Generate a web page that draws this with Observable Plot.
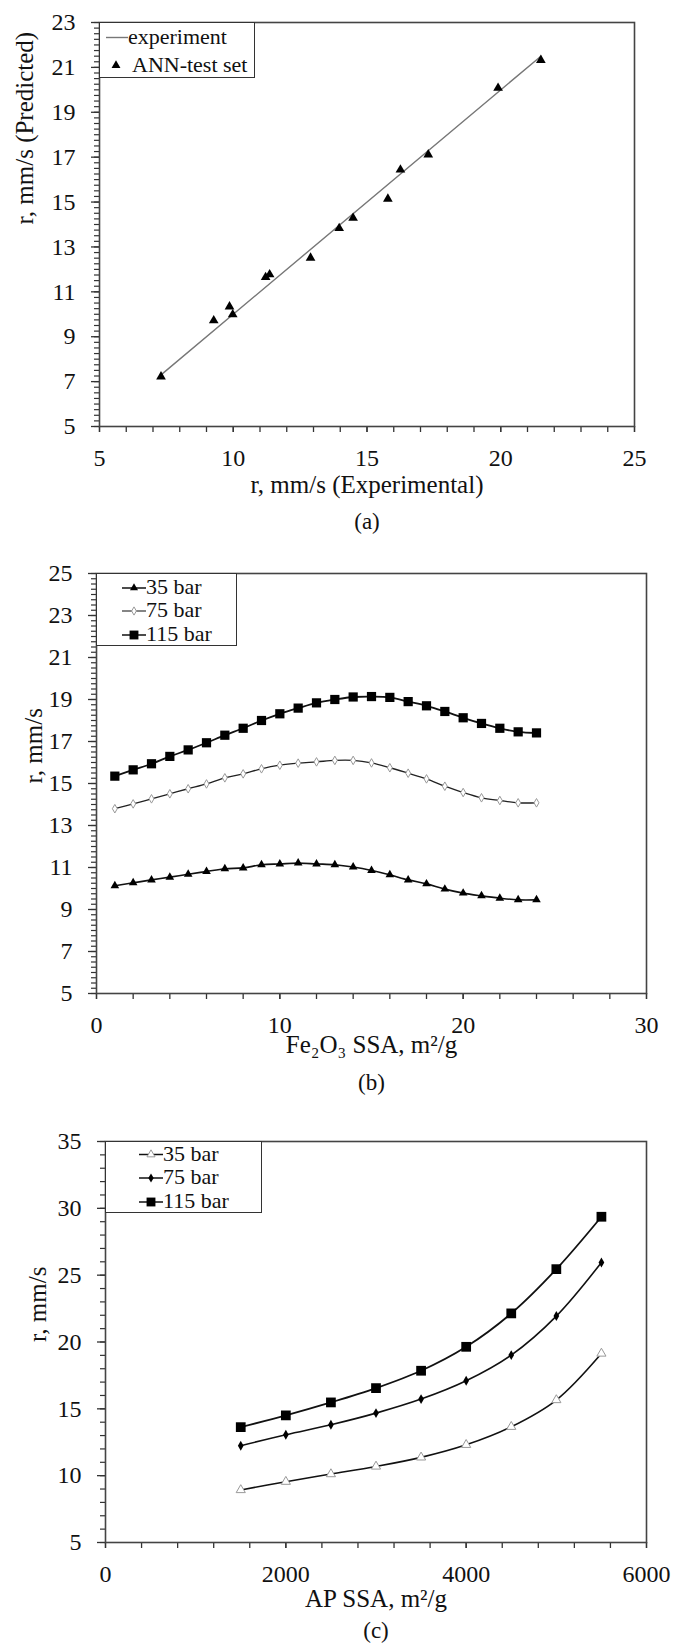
<!DOCTYPE html>
<html><head><meta charset="utf-8">
<script src="https://cdn.jsdelivr.net/npm/d3@7"></script>
<script src="https://cdn.jsdelivr.net/npm/@observablehq/plot@0.6"></script>
<style>
body{margin:0;background:#fff;}
#page{position:relative;width:675px;height:1649px;background:#fff;font-family:"Liberation Serif","Times New Roman",serif;overflow:hidden;}
.fig{position:absolute;left:0;width:675px;}
.legend{position:absolute;border:1.5px solid #333;background:#fff;box-sizing:border-box;}
.legend .t{position:absolute;font-size:22px;line-height:22px;white-space:nowrap;color:#111;}
.legend svg{position:absolute;left:0;top:0;}
</style></head>
<body><div id="page"></div>
<script>
// ---------- data ----------
// (a) ANN test set
const aExperimental = [7.3, 9.27, 9.86, 9.98, 11.21, 11.36, 12.89, 13.96, 14.48, 15.78, 16.25, 17.29, 19.9, 21.5];
const aPredicted    = [7.22, 9.72, 10.34, 9.99, 11.65, 11.77, 12.51, 13.83, 14.29, 15.14, 16.44, 17.11, 20.08, 21.32];
const aExperimentLine = [7.3, 21.5];
// (b) Fe2O3 SSA
const bSSA = [1,2,3,4,5,6,7,8,9,10,11,12,13,14,15,16,17,18,19,20,21,22,23,24];
const b35  = [10.13,10.27,10.41,10.54,10.68,10.81,10.94,10.98,11.13,11.17,11.21,11.17,11.13,11.02,10.86,10.65,10.41,10.22,9.97,9.78,9.65,9.54,9.46,9.46];
const b75  = [13.8,14.03,14.27,14.51,14.75,14.98,15.27,15.46,15.7,15.87,15.97,16.03,16.1,16.1,15.98,15.75,15.49,15.22,14.87,14.57,14.32,14.19,14.08,14.08];
const b115 = [15.35,15.65,15.94,16.29,16.6,16.94,17.3,17.63,18.0,18.32,18.59,18.84,19.0,19.12,19.14,19.1,18.9,18.7,18.43,18.13,17.86,17.63,17.46,17.41];
// (c) AP SSA
const cSSA = [1500,2000,2500,3000,3500,4000,4500,5000,5500];
const c35  = [8.93,9.55,10.12,10.69,11.37,12.31,13.66,15.66,19.14];
const c75  = [12.24,13.06,13.81,14.68,15.73,17.1,19.02,21.94,25.95];
const c115 = [13.63,14.51,15.48,16.55,17.85,19.64,22.14,25.45,29.37];
// tick labels
const aXTicks = [5,10,15,20,25];
const aYTicks = [5,7,9,11,13,15,17,19,21,23];
const bXTicks = [0,10,20,30];
const bYTicks = [5,7,9,11,13,15,17,19,21,23,25];
const cXTicks = [0,2000,4000,6000];
const cYTicks = [5,10,15,20,25,30,35];

const FONT = '"Liberation Serif", "Times New Roman", serif';
const page = document.getElementById("page");

function zip(xs, ys){ return xs.map((x,i)=>({x, y: ys[i]})); }

function panel(o){
  const marks = [
    Plot.axisX(o.xMinor, {tickSize:6, tickFormat:()=>"", stroke:"#333", strokeWidth:1.3, label:null}),
    Plot.axisX(o.xMajor, {tickSize:6, tickPadding:16, fontSize:24, stroke:"#333", strokeWidth:1.3, tickFormat:d=>String(d), label:null}),
    Plot.axisY(o.yMinor, {tickSize:5, tickFormat:()=>"", stroke:"#333", strokeWidth:1.2, label:null}),
    Plot.axisY(o.yMajor, {tickSize:8, tickPadding:16, fontSize:24, stroke:"#333", strokeWidth:1.3, tickFormat:d=>String(d), label:null}),
    ...o.marks,
    Plot.frame({stroke:"#444", strokeWidth:1.6}),
    Plot.text([o.xLabel], {frameAnchor:"bottom", dy:o.xLabelDy, fontSize:25, fill:"#111"}),
    Plot.text([o.yLabel], {frameAnchor:"left", dx:o.yLabelDx, rotate:-90, fontSize:25, fill:"#111"}),
    Plot.text([o.caption], {frameAnchor:"bottom", dy:o.captionDy, fontSize:23, fill:"#111"})
  ];
  const svg = Plot.plot({
    width:675, height:o.height,
    marginLeft:o.ml, marginRight:o.mr, marginTop:o.mt, marginBottom:o.mb,
    x:{domain:o.xDomain}, y:{domain:o.yDomain},
    style:{fontFamily:FONT, fontSize:"24px", color:"#111", background:"white", overflow:"visible"},
    marks
  });
  const div = document.createElement("div");
  div.className = "fig";
  div.style.top = o.top + "px";
  div.appendChild(svg);
  page.appendChild(div);
}

function legend(o){
  const box = document.createElement("div");
  box.className = "legend";
  Object.assign(box.style, {left:o.left+"px", top:o.top+"px", width:o.width+"px", height:o.height+"px"});
  const svg = d3.create("svg").attr("width", o.width).attr("height", o.height);
  o.items.forEach(it => {
    if (it.line) svg.append("line").attr("x1", it.line[0]).attr("x2", it.line[1]).attr("y1", it.cy).attr("y2", it.cy)
      .attr("stroke", it.lineStroke || "#111").attr("stroke-width", it.lineWidth || 1.5);
    if (it.symbol) svg.append("path").attr("transform", `translate(${it.mx},${it.cy})`)
      .attr("d", d3.symbol(it.symbol, Math.PI*it.r*it.r)())
      .attr("fill", it.fill).attr("stroke", it.stroke || "none").attr("stroke-width", 1);
    const t = document.createElement("div");
    t.className = "t"; t.textContent = it.label;
    t.style.left = it.tx + "px"; t.style.top = (it.cy - 12) + "px";
    box.appendChild(t);
  });
  box.prepend(svg.node());
  page.appendChild(box);
}

// ---------- (a) ----------
panel({
  top:0, height:545, ml:99, mr:41, mt:22, mb:119,
  xDomain:[5,25], yDomain:[5,23],
  xMajor:aXTicks, xMinor:d3.range(5,25.001,1),
  yMajor:aYTicks, yMinor:d3.range(5,23.001,0.25),
  xLabel:"r, mm/s (Experimental)", xLabelDy:66,
  yLabel:"r, mm/s (Predicted)", yLabelDx:-75,
  caption:"(a)", captionDy:102,
  marks:[
    Plot.line(zip(aExperimentLine, aExperimentLine), {x:"x", y:"y", stroke:"#777", strokeWidth:1.4}),
    Plot.dot(zip(aExperimental, aPredicted), {x:"x", y:"y", symbol:"triangle", r:3.6, fill:"#000", stroke:"none"})
  ]
});
legend({left:99, top:22, width:156, height:56, items:[
  {label:"experiment", cy:14.5, line:[6,28], lineStroke:"#777", lineWidth:1.4, tx:28},
  {label:"ANN-test set", cy:42.5, symbol:d3.symbolTriangle, mx:16, r:3.3, fill:"#000", tx:32}
]});

// ---------- (b) ----------
panel({
  top:545, height:555, ml:96, mr:29, mt:28, mb:107,
  xDomain:[0,30], yDomain:[5,25],
  xMajor:bXTicks, xMinor:d3.range(0,30.001,2),
  yMajor:bYTicks, yMinor:d3.range(5,25.001,0.25),
  xLabel:"Fe\u2082O\u2083 SSA, m\u00B2/g", xLabelDy:59,
  yLabel:"r, mm/s", yLabelDx:-63,
  caption:"(b)", captionDy:96,
  marks:[
    Plot.line(zip(bSSA, b35), {x:"x", y:"y", curve:"catmull-rom", stroke:"#111", strokeWidth:1.6}),
    Plot.line(zip(bSSA, b75), {x:"x", y:"y", curve:"catmull-rom", stroke:"#222", strokeWidth:1.3}),
    Plot.line(zip(bSSA, b115), {x:"x", y:"y", curve:"catmull-rom", stroke:"#111", strokeWidth:1.8}),
    Plot.dot(zip(bSSA, b35), {x:"x", y:"y", symbol:"triangle", r:3.2, fill:"#000", stroke:"none"}),
    Plot.dot(zip(bSSA, b75), {x:"x", y:"y", symbol:"diamond", r:2.6, fill:"#fff", stroke:"#999", strokeWidth:1}),
    Plot.dot(zip(bSSA, b115), {x:"x", y:"y", symbol:"square", r:5.2, fill:"#000", stroke:"none"})
  ]
});
legend({left:96, top:573, width:141, height:73, items:[
  {label:"35 bar", cy:14, line:[25,49], tx:49, symbol:d3.symbolTriangle, mx:37, r:3, fill:"#000"},
  {label:"75 bar", cy:37, line:[25,49], lineStroke:"#333", lineWidth:1.2, tx:49, symbol:d3.symbolDiamond, mx:37, r:2.5, fill:"#fff", stroke:"#999"},
  {label:"115 bar", cy:61, line:[25,49], tx:49, symbol:d3.symbolSquare, mx:37, r:5, fill:"#000"}
]});

// ---------- (c) ----------
panel({
  top:1100, height:549, ml:105, mr:29, mt:41, mb:107,
  xDomain:[0,6000], yDomain:[5,35],
  xMajor:cXTicks, xMinor:d3.range(0,6000.001,400),
  yMajor:cYTicks, yMinor:d3.range(5,35.001,1),
  xLabel:"AP SSA, m\u00B2/g", xLabelDy:64,
  yLabel:"r, mm/s", yLabelDx:-68,
  caption:"(c)", captionDy:95,
  marks:[
    Plot.line(zip(cSSA, c35), {x:"x", y:"y", curve:"catmull-rom", stroke:"#111", strokeWidth:1.6}),
    Plot.line(zip(cSSA, c75), {x:"x", y:"y", curve:"catmull-rom", stroke:"#111", strokeWidth:1.6}),
    Plot.line(zip(cSSA, c115), {x:"x", y:"y", curve:"catmull-rom", stroke:"#111", strokeWidth:1.8}),
    Plot.dot(zip(cSSA, c35), {x:"x", y:"y", symbol:"triangle", r:3.4, fill:"#fff", stroke:"#999", strokeWidth:1}),
    Plot.dot(zip(cSSA, c75), {x:"x", y:"y", symbol:"diamond", r:3, fill:"#000", stroke:"none"}),
    Plot.dot(zip(cSSA, c115), {x:"x", y:"y", symbol:"square", r:5.5, fill:"#000", stroke:"none"})
  ]
});
legend({left:105, top:1141, width:157, height:72, items:[
  {label:"35 bar", cy:12.5, line:[33,57], tx:57, symbol:d3.symbolTriangle, mx:45, r:3, fill:"#fff", stroke:"#999"},
  {label:"75 bar", cy:36, line:[33,57], tx:57, symbol:d3.symbolDiamond, mx:45, r:2.8, fill:"#000"},
  {label:"115 bar", cy:60, line:[33,57], tx:57, symbol:d3.symbolSquare, mx:45, r:5, fill:"#000"}
]});
</script>
</body></html>
